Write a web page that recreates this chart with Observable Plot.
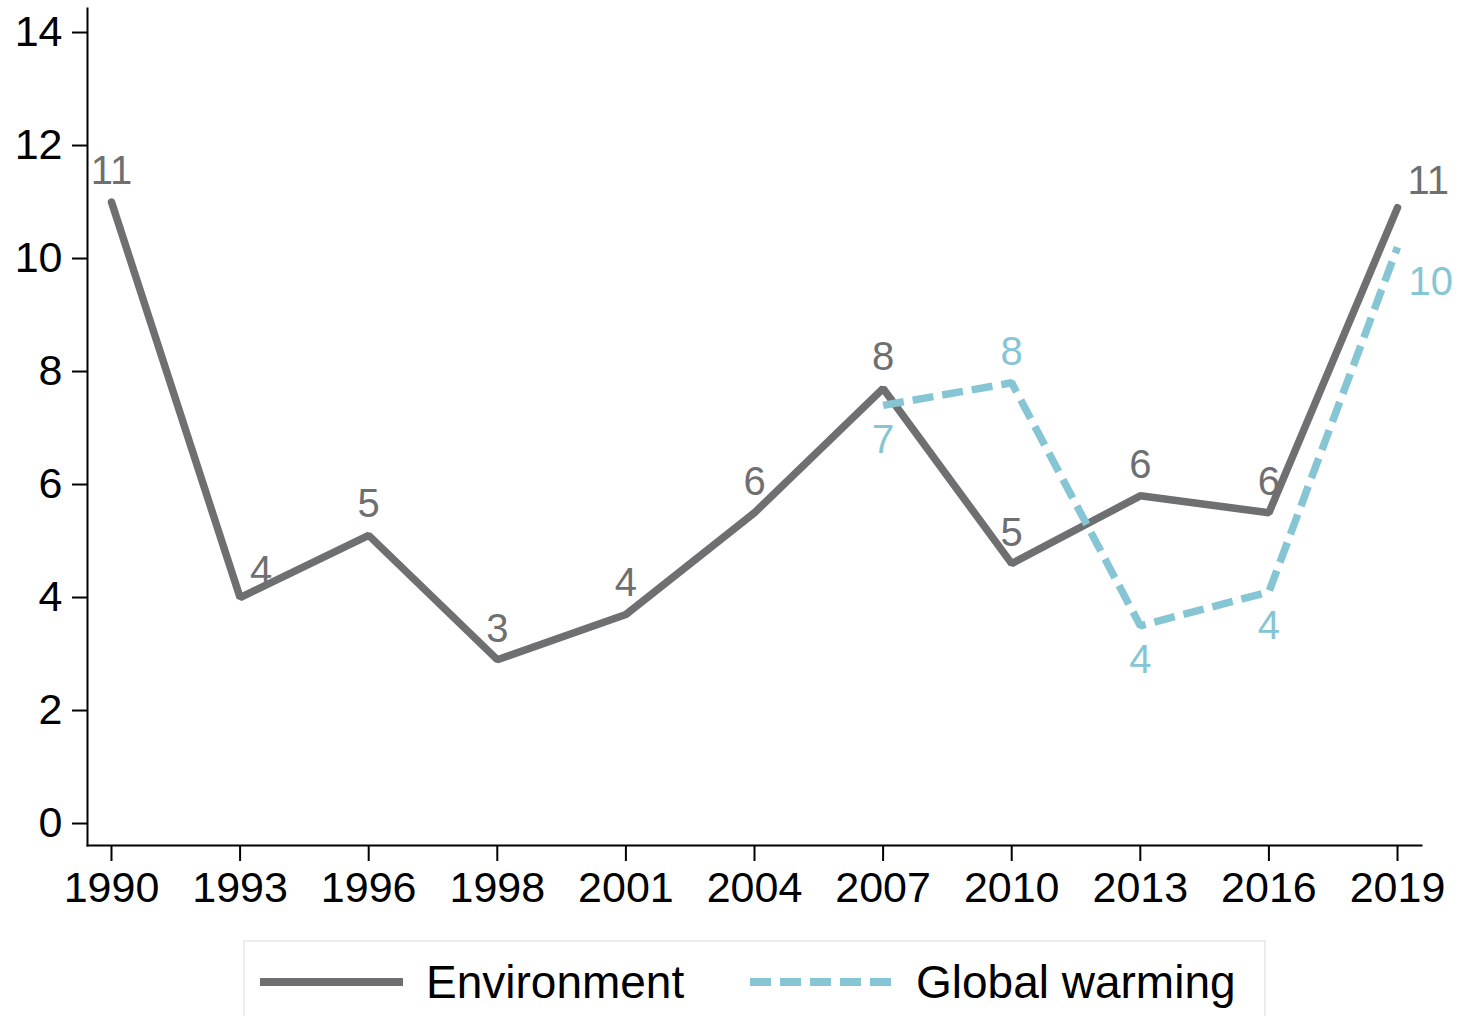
<!DOCTYPE html>
<html>
<head>
<meta charset="utf-8">
<script src="https://cdn.jsdelivr.net/npm/d3@7"></script>
<script src="https://cdn.jsdelivr.net/npm/@observablehq/plot@0.6"></script>
<style>
  html, body { margin: 0; padding: 0; background: #fff; }
  body { width: 1465px; height: 1016px; overflow: hidden; position: relative; font-family: "Liberation Sans", Arial, Helvetica, sans-serif; }
  #chart { position: absolute; left: 0; top: 0; }
  #legend { position: absolute; left: 243px; top: 940px; width: 1023px; height: 100px; border: 2px solid #ececec; box-sizing: border-box; }
  .item { position: absolute; top: 13px; display: flex; align-items: center; font-size: 46px; color: #000; white-space: nowrap; }
  .item svg { margin-right: 23px; }
</style>
</head>
<body>
<div id="chart"></div>
<div id="legend">
  <div class="item" style="left:15px"><svg width="143" height="14"><line x1="0" y1="7" x2="143" y2="7" stroke="#6e6f71" stroke-width="8"/></svg>Environment</div>
  <div class="item" style="left:505px"><svg width="143" height="14"><line x1="0" y1="7" x2="143" y2="7" stroke="#86c6d4" stroke-width="8" stroke-dasharray="21,9"/></svg>Global warming</div>
</div>
<script>
const years = ["1990","1993","1996","1998","2001","2004","2007","2010","2013","2016","2019"];
const environment = [11.0, 4.0, 5.1, 2.9, 3.7, 5.5, 7.7, 4.6, 5.8, 5.5, 10.9];
const gwYears = ["2007","2010","2013","2016","2019"];
const globalWarming = [7.4, 7.8, 3.5, 4.1, 10.2];
// marker label clock positions (as in the source chart)
const envLabelPos = [12, 1, 12, 12, 12, 12, 12, 12, 12, 12, 1];
const gwLabelPos = [6, 12, 6, 6, 5];
const yTicks = [0, 2, 4, 6, 8, 10, 12, 14];

const envColor = "#6e6f71";
const gwColor = "#86c6d4";

const env = years.map((y, i) => ({year: y, value: environment[i], pos: envLabelPos[i]}));
const gw = gwYears.map((y, i) => ({year: y, value: globalWarming[i], pos: gwLabelPos[i]}));

const offsets = {
  12: {dx: 0, dy: -18, lineAnchor: "bottom", textAnchor: "middle"},
  1: {dx: 10, dy: -14, lineAnchor: "bottom", textAnchor: "start"},
  6: {dx: 0, dy: 19, lineAnchor: "top", textAnchor: "middle"},
  5: {dx: 11, dy: 19, lineAnchor: "top", textAnchor: "start"}
};

function labels(data, color) {
  return Object.keys(offsets).map(p => Plot.text(data.filter(d => d.pos === +p), {
    x: "year", y: "value", text: d => String(Math.round(d.value)),
    fill: color, fontSize: 40,
    ...offsets[p]
  }));
}

const chart = Plot.plot({
  width: 1465,
  height: 935,
  marginLeft: 87,
  marginRight: 44,
  marginTop: 8,
  marginBottom: 90,
  style: {fontFamily: '"Liberation Sans", Arial, Helvetica, sans-serif', fontSize: "43px", color: "#000", background: "#fff"},
  x: {type: "point", domain: years, padding: 0.1865, round: false},
  y: {domain: [-0.389, 14.425]},
  marks: [
    Plot.axisY({ticks: yTicks, tickSize: 15, tickPadding: 10, fontSize: 43, strokeWidth: 2, label: null}),
    Plot.axisX({tickSize: 16, tickPadding: 10, fontSize: 43, strokeWidth: 2, label: null}),
    Plot.frame({anchor: "left", stroke: "#000", strokeWidth: 2}),
    Plot.frame({anchor: "bottom", stroke: "#000", strokeWidth: 2}),
    Plot.line(env, {x: "year", y: "value", stroke: envColor, strokeWidth: 7.5, strokeLinecap: "round", strokeLinejoin: "miter"}),
    Plot.line(gw, {x: "year", y: "value", stroke: gwColor, strokeWidth: 7.5, strokeDasharray: "21,9", strokeLinecap: "butt", strokeLinejoin: "miter"}),
    ...labels(env, envColor),
    ...labels(gw, gwColor)
  ]
});
document.getElementById("chart").appendChild(chart);
</script>
</body>
</html>
